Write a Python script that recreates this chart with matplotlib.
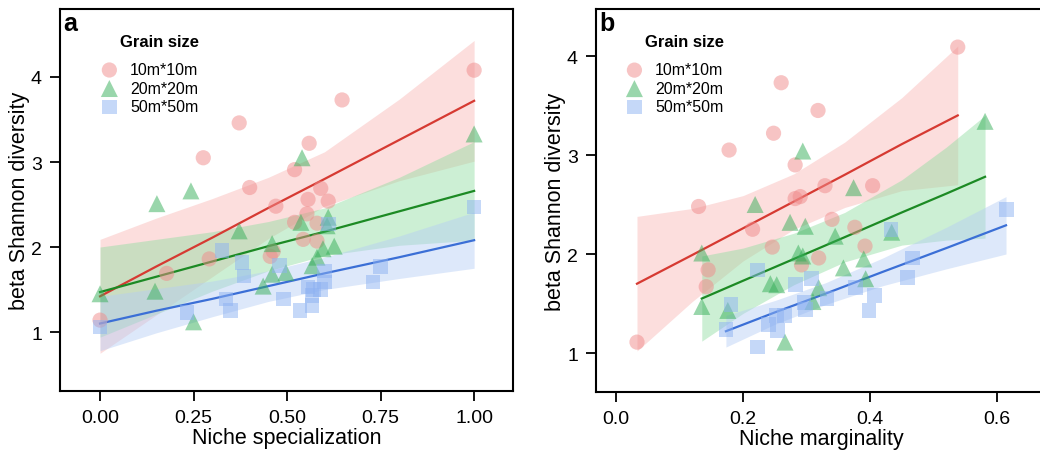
import matplotlib
matplotlib.use("Agg")
import matplotlib.pyplot as plt
import numpy as np

plt.rcParams["font.family"] = ["Liberation Sans", "DejaVu Sans"]

# ---- panel a: niche specialization ----
spec_10_x = [1.0, 0.647, 0.372, 0.559, 0.276, 0.52, 0.40, 0.59, 0.556, 0.61, 0.47,
             0.553, 0.52, 0.58, 0.543, 0.58, 0.463, 0.455, 0.292, 0.178, 0.0]
spec_10_y = [4.08, 3.73, 3.46, 3.22, 3.05, 2.91, 2.70, 2.69, 2.56, 2.54, 2.48,
             2.39, 2.29, 2.28, 2.09, 2.07, 1.95, 1.89, 1.86, 1.69, 1.14]
spec_20_x = [1.0, 0.54, 0.243, 0.152, 0.372, 0.537, 0.61, 0.607, 0.46, 0.626,
             0.596, 0.58, 0.567, 0.497, 0.46, 0.436, 0.147, 0.0, 0.25]
spec_20_y = [3.33, 3.05, 2.66, 2.51, 2.19, 2.29, 2.35, 2.25, 2.04, 2.01,
             1.98, 1.88, 1.78, 1.70, 1.68, 1.54, 1.48, 1.45, 1.12]
spec_50_x = [1.0, 0.326, 0.38, 0.385, 0.61, 0.48, 0.60, 0.60, 0.59, 0.57, 0.567,
             0.556, 0.75, 0.73, 0.49, 0.535, 0.567, 0.337, 0.348, 0.232, 0.0]
spec_50_y = [2.47, 1.96, 1.82, 1.66, 2.27, 1.78, 1.72, 1.59, 1.50, 1.50, 1.43,
             1.53, 1.77, 1.59, 1.39, 1.25, 1.31, 1.39, 1.25, 1.23, 1.06]

# fitted line and confidence band
spec_band_x = [0.0, 0.15, 0.3, 0.45, 0.6, 0.8, 1.0]
spec_10_fit = [1.42, 1.77, 2.11, 2.46, 2.80, 3.26, 3.72]
spec_10_lo = [0.75, 1.20, 1.65, 2.10, 2.48, 2.78, 3.01]
spec_10_hi = [2.09, 2.34, 2.57, 2.82, 3.12, 3.74, 4.43]
spec_20_fit = [1.47, 1.65, 1.83, 2.01, 2.18, 2.42, 2.66]
spec_20_lo = [0.94, 1.21, 1.48, 1.72, 1.90, 2.02, 2.08]
spec_20_hi = [2.00, 2.09, 2.18, 2.30, 2.46, 2.82, 3.24]
spec_50_fit = [1.10, 1.25, 1.39, 1.54, 1.69, 1.88, 2.08]
spec_50_lo = [0.78, 0.99, 1.18, 1.36, 1.50, 1.63, 1.75]
spec_50_hi = [1.42, 1.51, 1.60, 1.72, 1.88, 2.13, 2.41]

# ---- panel b: niche marginality ----
marg_10_x = [0.538, 0.26, 0.318, 0.248, 0.178, 0.282, 0.329, 0.404, 0.13, 0.282, 0.29,
             0.34, 0.215, 0.376, 0.246, 0.392, 0.319, 0.292, 0.145, 0.142, 0.033]
marg_10_y = [4.09, 3.73, 3.45, 3.22, 3.05, 2.90, 2.69, 2.69, 2.48, 2.56, 2.58,
             2.35, 2.25, 2.27, 2.07, 2.08, 1.96, 1.89, 1.84, 1.67, 1.11]
marg_20_x = [0.294, 0.581, 0.374, 0.219, 0.274, 0.298, 0.345, 0.434, 0.135, 0.287, 0.294,
             0.39, 0.358, 0.393, 0.253, 0.243, 0.319, 0.31, 0.135, 0.176, 0.266]
marg_20_y = [3.04, 3.34, 2.67, 2.50, 2.32, 2.28, 2.18, 2.22, 2.01, 2.01, 1.98,
             1.95, 1.86, 1.75, 1.69, 1.70, 1.66, 1.52, 1.47, 1.43, 1.11]
marg_50_x = [0.615, 0.433, 0.467, 0.459, 0.223, 0.283, 0.308, 0.377, 0.407, 0.181,
             0.332, 0.296, 0.298, 0.398, 0.265, 0.253, 0.24, 0.254, 0.173, 0.223]
marg_50_y = [2.45, 2.25, 1.96, 1.76, 1.84, 1.69, 1.75, 1.66, 1.58, 1.49,
             1.55, 1.51, 1.44, 1.43, 1.38, 1.38, 1.29, 1.23, 1.24, 1.06]

marg_10_bx = [0.033, 0.12, 0.2, 0.28, 0.36, 0.45, 0.538]
marg_10_fit = [1.70, 1.99, 2.26, 2.53, 2.80, 3.11, 3.40]
marg_10_lo = [1.02, 1.52, 1.93, 2.25, 2.47, 2.64, 2.70]
marg_10_hi = [2.38, 2.46, 2.59, 2.81, 3.13, 3.58, 4.10]
marg_20_bx = [0.135, 0.2, 0.28, 0.36, 0.45, 0.52, 0.581]
marg_20_fit = [1.55, 1.73, 1.95, 2.17, 2.42, 2.61, 2.78]
marg_20_lo = [1.12, 1.40, 1.69, 1.92, 2.09, 2.14, 2.16]
marg_20_hi = [1.98, 2.06, 2.21, 2.42, 2.75, 3.08, 3.40]
marg_50_bx = [0.173, 0.25, 0.33, 0.42, 0.52, 0.614]
marg_50_fit = [1.22, 1.41, 1.60, 1.82, 2.06, 2.29]
marg_50_lo = [1.06, 1.29, 1.49, 1.68, 1.85, 2.00]
marg_50_hi = [1.38, 1.53, 1.71, 1.96, 2.27, 2.58]

grain_labels = ["10m*10m", "20m*20m", "50m*50m"]

pt_colors = ["#F08A8A", "#35AE58", "#8DB2F2"]
band_colors = ["#F9B7B5", "#8FDDA0", "#B5CDF5"]
line_colors = ["#D63A32", "#1C8A24", "#3B6FD6"]
markers = ["o", "^", "s"]
sizes = [120, 150, 110]


def draw_panel(ax, groups, label, xlabel, xticks, xticklabels, xlim, ylim,
               title_x, leg_x):
    for i, (px, py, bx, fit, lo, hi) in enumerate(groups):
        ax.fill_between(bx, lo, hi, color=band_colors[i], alpha=0.45, lw=0, zorder=1)
    for i, (px, py, bx, fit, lo, hi) in enumerate(groups):
        ax.plot(bx, fit, color=line_colors[i], lw=1.6, zorder=3)
    for i, (px, py, bx, fit, lo, hi) in enumerate(groups):
        ax.scatter(px, py, marker=markers[i], s=sizes[i], color=pt_colors[i],
                   alpha=0.5, edgecolors="none", zorder=4, label=grain_labels[i])

    ax.set_xlim(*xlim)
    ax.set_ylim(*ylim)
    ax.set_xticks(xticks)
    ax.set_xticklabels(xticklabels)
    ax.set_yticks([1, 2, 3, 4])
    ax.tick_params(direction="out", length=7, width=1.3, labelsize=14, pad=6)
    for sp in ax.spines.values():
        sp.set_linewidth(1.5)
    ax.set_xlabel(xlabel, fontsize=15.5, labelpad=1)
    ax.set_ylabel("beta Shannon diversity", fontsize=15.5, labelpad=1)
    ax.text(0.008, 0.995, label, transform=ax.transAxes, fontsize=18,
            fontweight="bold", va="top", ha="left")
    ax.text(title_x, 0.914, "Grain size", transform=ax.transAxes, fontsize=12,
            fontweight="bold", va="center", ha="left")
    leg = ax.legend(loc="upper left", bbox_to_anchor=(leg_x, 0.89), frameon=False,
                    fontsize=11.5, labelspacing=0.22, handletextpad=0.3,
                    borderpad=0.2)
    for h in leg.legend_handles:
        h.set_alpha(0.5)


fig = plt.figure(figsize=(10.4, 4.52), dpi=100)
ax_a = fig.add_axes([0.0577, 0.1327, 0.4356, 0.8452])
ax_b = fig.add_axes([0.5731, 0.1305, 0.4327, 0.8474])

groups_a = [
    (spec_10_x, spec_10_y, spec_band_x, spec_10_fit, spec_10_lo, spec_10_hi),
    (spec_20_x, spec_20_y, spec_band_x, spec_20_fit, spec_20_lo, spec_20_hi),
    (spec_50_x, spec_50_y, spec_band_x, spec_50_fit, spec_50_lo, spec_50_hi),
]
groups_b = [
    (marg_10_x, marg_10_y, marg_10_bx, marg_10_fit, marg_10_lo, marg_10_hi),
    (marg_20_x, marg_20_y, marg_20_bx, marg_20_fit, marg_20_lo, marg_20_hi),
    (marg_50_x, marg_50_y, marg_50_bx, marg_50_fit, marg_50_lo, marg_50_hi),
]

draw_panel(ax_a, groups_a, "a", "Niche specialization",
           [0, 0.25, 0.5, 0.75, 1.0], ["0.00", "0.25", "0.50", "0.75", "1.00"],
           (-0.107, 1.104), (0.306, 4.8), 0.132, 0.049)
draw_panel(ax_b, groups_b, "b", "Niche marginality",
           [0, 0.2, 0.4, 0.6], ["0.0", "0.2", "0.4", "0.6"],
           (-0.0315, 0.677), (0.606, 4.475), 0.109, 0.025)

fig.savefig("out.png", dpi=100, facecolor="white")
